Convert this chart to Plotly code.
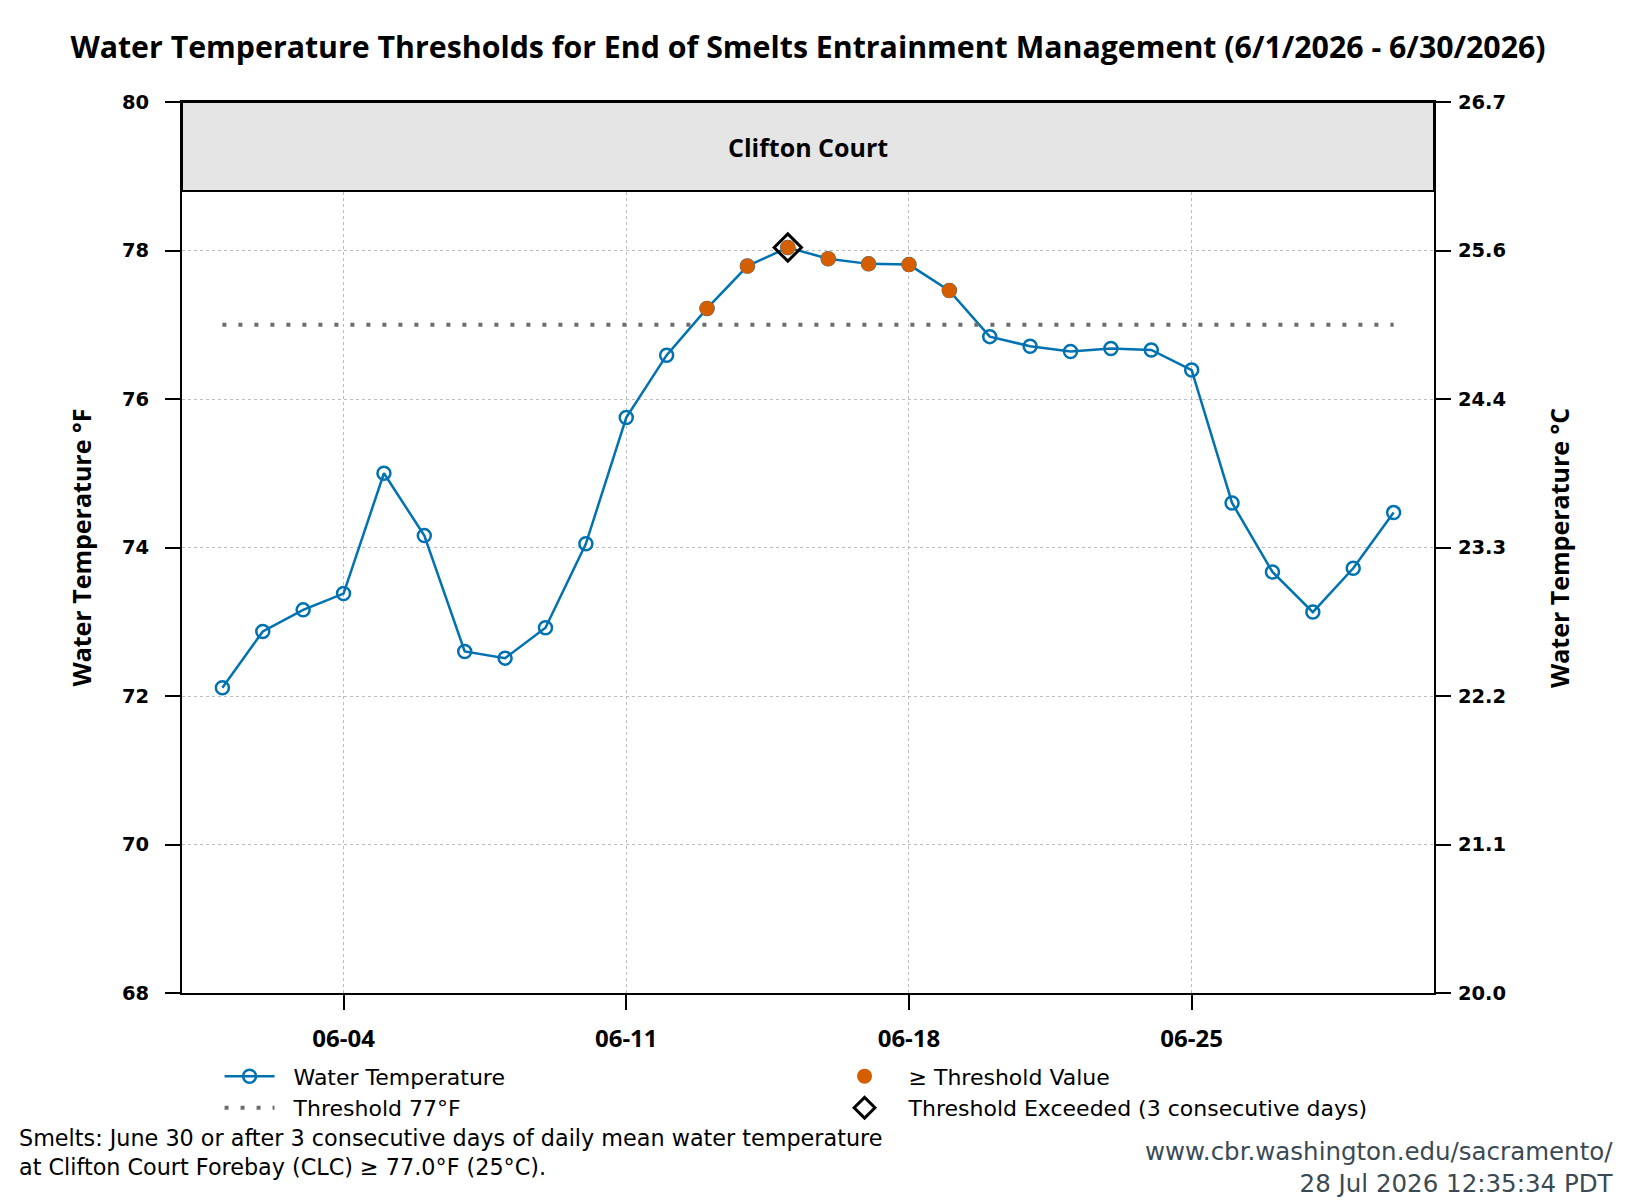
import plotly.graph_objects as go

dates = [f"2026-06-{d:02d}" for d in range(1, 31)]
temps_f = [72.11, 72.87, 73.16, 73.38, 75.00, 74.16, 72.60, 72.51, 72.92, 74.05,
           75.75, 76.59, 77.22, 77.79, 78.04, 77.89, 77.82, 77.81, 77.46, 76.84,
           76.71, 76.64, 76.68, 76.66, 76.39, 74.60, 73.67, 73.13, 73.72, 74.47]
threshold_f = 77.0
exceed_dates = dates[12:19]
exceed_vals = temps_f[12:19]
trigger_date = ["2026-06-15"]
trigger_val = [78.04]

y_ticks_f = [68, 70, 72, 74, 76, 78, 80]
x_tick_vals = ["2026-06-04", "2026-06-11", "2026-06-18", "2026-06-25"]
x_tick_text = ["06-04", "06-11", "06-18", "06-25"]

BLUE = "#0072B2"
ORANGE = "#D55E00"
PAD = "\u00a0\u00a0"

fig = go.Figure()
fig.add_trace(go.Scatter(x=dates, y=temps_f, mode="lines+markers", name=PAD + "Water Temperature",
                         line=dict(color=BLUE, width=2.5),
                         marker=dict(symbol="circle-open", size=13, color=BLUE, line=dict(width=2.5, color=BLUE))))
fig.add_trace(go.Scatter(x=exceed_dates, y=exceed_vals, mode="markers", name=PAD + "≥ Threshold Value",
                         marker=dict(symbol="circle", size=15, color=ORANGE)))
fig.add_trace(go.Scatter(x=[dates[0], dates[-1]], y=[threshold_f, threshold_f], mode="lines",
                         name=PAD + "Threshold 77°F",
                         line=dict(color="#6e6e6e", width=4, dash="4px,12px")))
fig.add_trace(go.Scatter(x=trigger_date, y=trigger_val, mode="markers",
                         name=PAD + "Threshold Exceeded (3 consecutive days)",
                         marker=dict(symbol="diamond-open", size=21, color="black", line=dict(width=3, color="black"))))
# invisible trace to activate the secondary (°C) axis
fig.add_trace(go.Scatter(x=[dates[0]], y=[20], yaxis="y2", mode="markers", showlegend=False,
                         marker=dict(opacity=0), hoverinfo="skip"))

for i, r in enumerate([1, 2, 3, 4]):
    fig.data[i].legendrank = r

tick_font = dict(family="DejaVu Sans", size=19.5, color="black", weight="bold")
c_ticks = [(f - 32) * 5 / 9 for f in y_ticks_f]

fig.update_layout(
    width=1650, height=1200,
    margin=dict(l=182, r=216, t=102, b=207),
    paper_bgcolor="white", plot_bgcolor="white",
    title=dict(text="Water Temperature Thresholds for End of Smelts Entrainment Management (6/1/2026 - 6/30/2026)",
               font=dict(family="Open Sans", size=30.3, color="black", weight="bold"),
               x=0.5, xref="paper", xanchor="center", y=1 - 47 / 1200, yref="container", yanchor="middle"),
    xaxis=dict(type="date", range=["2026-05-31", "2026-07-01"], tickvals=x_tick_vals, ticktext=x_tick_text,
               showgrid=True, gridcolor="#bdbdbd", griddash="dot", gridwidth=1,
               showline=True, linecolor="black", linewidth=2, mirror=True,
               ticks="outside", ticklen=15, tickwidth=1.5, tickcolor="black", ticklabelstandoff=8,
               tickfont=dict(family="Open Sans", size=24, color="black", weight="bold"), zeroline=False),
    yaxis=dict(range=[68, 80], tickvals=y_ticks_f, ticktext=[str(v) for v in y_ticks_f],
               showgrid=True, gridcolor="#bdbdbd", griddash="dot", gridwidth=1,
               showline=True, linecolor="black", linewidth=2,
               ticks="outside", ticklen=15, tickwidth=1.5, tickcolor="black", ticklabelstandoff=12,
               tickfont=tick_font, zeroline=False),
    yaxis2=dict(range=[20, (80 - 32) * 5 / 9], overlaying="y", side="right", tickvals=c_ticks,
                ticktext=[f"{c:.1f}" for c in c_ticks], showgrid=False,
                showline=True, linecolor="black", linewidth=2,
                ticks="outside", ticklen=15, tickwidth=1.5, tickcolor="black", ticklabelstandoff=3,
                tickfont=tick_font, zeroline=False),
    legend=dict(orientation="h", x=0.03, y=-0.07, xanchor="left", yanchor="top",
                entrywidth=550, font=dict(family="DejaVu Sans", size=22, color="black"),
                bgcolor="rgba(0,0,0,0)", tracegroupgap=0, itemwidth=50),
    showlegend=True,
)

fig.add_shape(type="rect", xref="paper", yref="y", x0=0, x1=1, y0=78.8, y1=80,
              fillcolor="#E5E5E5", line=dict(color="black", width=2), layer="above")
fig.add_annotation(text="Clifton Court", xref="paper", yref="y", x=0.5, y=79.4, showarrow=False,
                   font=dict(family="Open Sans", size=25, color="black", weight="bold"))

fig.add_annotation(text="Water Temperature °F", xref="paper", yref="paper", x=(80 - 182) / 1252.5, y=0.5,
                   xanchor="center", yanchor="middle", textangle=-90, showarrow=False,
                   font=dict(family="Open Sans", size=25, color="black", weight="bold"))
fig.add_annotation(text="Water Temperature °C", xref="paper", yref="paper", x=(1559 - 182) / 1252.5, y=0.5,
                   xanchor="center", yanchor="middle", textangle=-90, showarrow=False,
                   font=dict(family="Open Sans", size=25, color="black", weight="bold"))

fig.add_annotation(text="Smelts: June 30 or after 3 consecutive days of daily mean water temperature<br>at Clifton Court Forebay (CLC) ≥ 77.0°F (25°C).",
                   xref="paper", yref="paper", x=(17 - 182) / 1252.5, y=(993 - 1152) / 891,
                   xanchor="left", yanchor="middle", align="left", showarrow=False,
                   font=dict(family="DejaVu Sans", size=22.3, color="black"))
fig.add_annotation(text="www.cbr.washington.edu/sacramento/<br>28 Jul 2026 12:35:34 PDT",
                   xref="paper", yref="paper", x=(1617 - 182) / 1252.5, y=(993 - 1167) / 891,
                   xanchor="right", yanchor="middle", align="right", showarrow=False,
                   font=dict(family="DejaVu Sans", size=24.5, color="#3b4a52"))

fig.write_html("out.html")
